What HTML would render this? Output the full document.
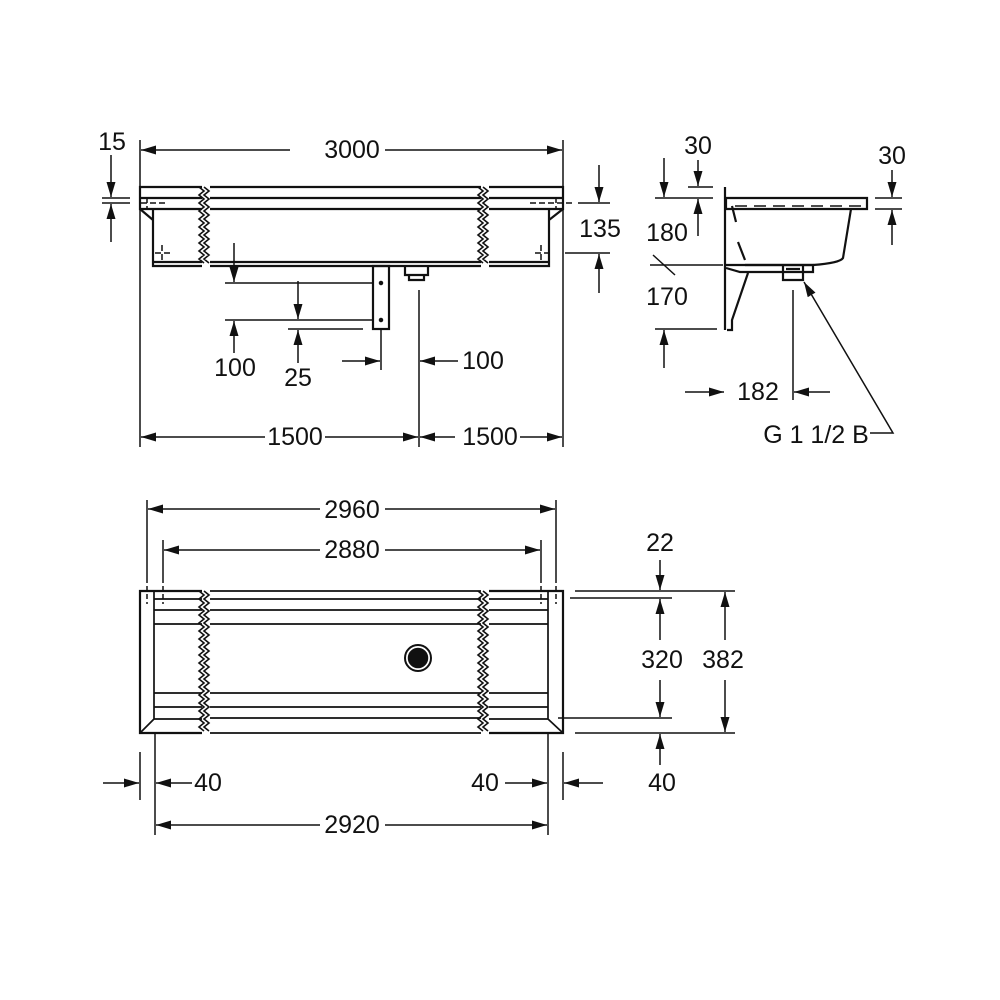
<!DOCTYPE html>
<html><head><meta charset="utf-8"><style>
html,body{margin:0;padding:0;background:#fff}
svg{display:block}
text{font-family:"Liberation Sans",Arial,sans-serif;font-size:25px;fill:#111;text-anchor:middle;dominant-baseline:central}
</style></head><body>
<svg id="s" width="1000" height="1000" viewBox="0 0 1000 1000" xmlns="http://www.w3.org/2000/svg">
<defs>
<marker id="a" viewBox="0 0 10 10" refX="10" refY="5" markerWidth="15" markerHeight="15" markerUnits="userSpaceOnUse" orient="auto"><path d="M0,2 L10,5 L0,8 Z" fill="#111"/></marker>
</defs>
<g stroke="#111" stroke-width="1.5" fill="none" id="g">
<line x1="140" y1="140" x2="140" y2="447"/><line x1="563" y1="140" x2="563" y2="447"/>
<line x1="290" y1="150" x2="141" y2="150" marker-end="url(#a)"/><line x1="385" y1="150" x2="562" y2="150" marker-end="url(#a)"/>
<path d="M202,187 H140 V209 H202 M140,198 H202" stroke-width="2.2"/>
<path d="M210,187 H481 M210,198 H481 M210,209 H481" stroke-width="2.2"/>
<path d="M489,187 H563 V209 H489 M489,198 H563" stroke-width="2.2"/>
<path d="M202,266 H153 V209 M140,209 L153,220 M153,262 H202" stroke-width="2.2"/>
<path d="M210,266 H481 M210,262 H481" stroke-width="2.2"/>
<path d="M489,266 H549 V209 M563,209 L549,220 M489,262 H549" stroke-width="2.2"/>
<path d="M147,197 V209 M141,203 H165 M155,253 H172 M162,245 V262 M530,203 H575 M556,197 V209 M535,253 H553 M541,245 V262" stroke-dasharray="6,3"/>
<rect x="373" y="266" width="16" height="63" stroke-width="2.2"/>
<circle cx="381" cy="283" r="1.5" fill="#111"/><circle cx="381" cy="320" r="1.5" fill="#111"/>
<path d="M405,266 V275 H409 V280 H424 V275 H428 V266 M409,275 H424" stroke-width="2.2"/>
<line x1="225" y1="283" x2="373" y2="283"/><line x1="225" y1="320" x2="373" y2="320"/>
<line x1="288" y1="329" x2="363" y2="329"/>
<line x1="234" y1="243" x2="234" y2="282" marker-end="url(#a)"/>
<line x1="234" y1="353" x2="234" y2="321" marker-end="url(#a)"/>
<line x1="298" y1="281" x2="298" y2="319" marker-end="url(#a)"/>
<line x1="298" y1="363" x2="298" y2="330" marker-end="url(#a)"/>
<line x1="381" y1="329" x2="381" y2="370"/>
<line x1="342" y1="361" x2="380" y2="361" marker-end="url(#a)"/>
<line x1="419" y1="290" x2="419" y2="447"/>
<line x1="458" y1="361" x2="420" y2="361" marker-end="url(#a)"/>
<line x1="265" y1="437" x2="141" y2="437" marker-end="url(#a)"/><line x1="325" y1="437" x2="418" y2="437" marker-end="url(#a)"/>
<line x1="455" y1="437" x2="420" y2="437" marker-end="url(#a)"/><line x1="520" y1="437" x2="562" y2="437" marker-end="url(#a)"/>
<line x1="102" y1="198" x2="130" y2="198"/><line x1="102" y1="203" x2="130" y2="203"/>
<line x1="111" y1="155" x2="111" y2="197" marker-end="url(#a)"/><line x1="111" y1="242" x2="111" y2="204" marker-end="url(#a)"/>
<line x1="578" y1="203" x2="610" y2="203"/><line x1="565" y1="253" x2="610" y2="253"/>
<line x1="599" y1="165" x2="599" y2="202" marker-end="url(#a)"/><line x1="599" y1="293" x2="599" y2="254" marker-end="url(#a)"/>

<line x1="725" y1="187" x2="725" y2="330" stroke-width="2.2"/>
<path d="M726,198 H867 V209 H726 Z" stroke-width="2.2"/>
<path d="M735,206 H862" stroke-dasharray="12,7"/>
<path d="M851,209 L843,258 Q840,263 813,265 L745,265" stroke-width="2.2"/>
<path d="M732,206 L736,222 M738,242 L745,260" stroke-width="2.2"/>
<path d="M726,265 H813 V272 H740 L726,268 M748,273 L732,320 V330 H727" stroke-width="2.2"/>
<path d="M783,265 V280 H803 V265 M786,269 H800" stroke-width="2.2"/>
<line x1="688" y1="187" x2="713" y2="187"/><line x1="655" y1="198" x2="713" y2="198"/>
<line x1="698" y1="160" x2="698" y2="186" marker-end="url(#a)"/><line x1="698" y1="236" x2="698" y2="199" marker-end="url(#a)"/>
<line x1="664" y1="158" x2="664" y2="197" marker-end="url(#a)"/>
<line x1="650" y1="265" x2="723" y2="265"/><line x1="653" y1="255" x2="675" y2="275"/>
<line x1="655" y1="329" x2="717" y2="329"/>
<line x1="664" y1="368" x2="664" y2="330" marker-end="url(#a)"/>
<line x1="793" y1="290" x2="793" y2="400"/>
<line x1="685" y1="392" x2="724" y2="392" marker-end="url(#a)"/><line x1="830" y1="392" x2="794" y2="392" marker-end="url(#a)"/>
<line x1="875" y1="198" x2="902" y2="198"/><line x1="875" y1="209" x2="902" y2="209"/>
<line x1="892" y1="170" x2="892" y2="197" marker-end="url(#a)"/><line x1="892" y1="245" x2="892" y2="210" marker-end="url(#a)"/>
<path d="M870,433 H893 L804,282" marker-end="url(#a)"/>

<path d="M202,591 H140 V733 H202" stroke-width="2.2"/>
<path d="M154,591 V719 L140,733 M154,599 H202 M154,610 H202 M154,624 H202 M154,693 H202 M154,707 H202 M154,719 H202" stroke-width="1.7"/>
<path d="M210,591 H481 M210,599 H481 M210,610 H481 M210,624 H481 M210,693 H481 M210,707 H481 M210,718 H481 M210,733 H481" stroke-width="1.7"/>
<path d="M489,591 H563 V733 H489" stroke-width="2.2"/>
<path d="M548,591 V719 L563,733 M489,599 H548 M489,610 H548 M489,624 H548 M489,693 H548 M489,707 H548 M489,719 H548" stroke-width="1.7"/>
<circle cx="418" cy="658" r="13" stroke-width="2"/><circle cx="418" cy="658" r="9.5" fill="#111"/>
<path d="M147,578 V604 M163,578 V604 M541,578 V604 M556,578 V604" stroke-dasharray="5,3"/>
<line x1="147" y1="500" x2="147" y2="578"/><line x1="556" y1="500" x2="556" y2="578"/>
<line x1="163" y1="540" x2="163" y2="578"/><line x1="541" y1="540" x2="541" y2="578"/>
<line x1="320" y1="509" x2="148" y2="509" marker-end="url(#a)"/><line x1="385" y1="509" x2="555" y2="509" marker-end="url(#a)"/>
<line x1="320" y1="550" x2="164" y2="550" marker-end="url(#a)"/><line x1="385" y1="550" x2="540" y2="550" marker-end="url(#a)"/>
<line x1="140" y1="752" x2="140" y2="800"/><line x1="155" y1="733" x2="155" y2="835"/>
<line x1="548" y1="733" x2="548" y2="835"/><line x1="563" y1="752" x2="563" y2="800"/>
<line x1="103" y1="783" x2="139" y2="783" marker-end="url(#a)"/><line x1="192" y1="783" x2="156" y2="783" marker-end="url(#a)"/>
<line x1="505" y1="783" x2="547" y2="783" marker-end="url(#a)"/><line x1="603" y1="783" x2="564" y2="783" marker-end="url(#a)"/>
<line x1="320" y1="825" x2="156" y2="825" marker-end="url(#a)"/><line x1="385" y1="825" x2="547" y2="825" marker-end="url(#a)"/>
<line x1="575" y1="591" x2="735" y2="591"/><line x1="570" y1="598" x2="672" y2="598"/>
<line x1="558" y1="718" x2="672" y2="718"/><line x1="575" y1="733" x2="735" y2="733"/>
<line x1="660" y1="560" x2="660" y2="590" marker-end="url(#a)"/>
<line x1="660" y1="640" x2="660" y2="599" marker-end="url(#a)"/><line x1="660" y1="680" x2="660" y2="717" marker-end="url(#a)"/>
<line x1="660" y1="765" x2="660" y2="734" marker-end="url(#a)"/>
<line x1="725" y1="640" x2="725" y2="592" marker-end="url(#a)"/><line x1="725" y1="680" x2="725" y2="732" marker-end="url(#a)"/>
</g>
<g>
<text x="352" y="150">3000</text>
<text x="112" y="142">15</text>
<text x="600" y="229">135</text>
<text x="235" y="368">100</text>
<text x="298" y="378">25</text>
<text x="483" y="361">100</text>
<text x="295" y="437">1500</text>
<text x="490" y="437">1500</text>
<text x="698" y="146">30</text>
<text x="892" y="156">30</text>
<text x="667" y="233">180</text>
<text x="667" y="297">170</text>
<text x="758" y="392">182</text>
<text x="816" y="435">G 1 1/2 B</text>
<text x="352" y="510">2960</text>
<text x="352" y="550">2880</text>
<text x="660" y="543">22</text>
<text x="662" y="660">320</text>
<text x="723" y="660">382</text>
<text x="208" y="783">40</text>
<text x="485" y="783">40</text>
<text x="662" y="783">40</text>
<text x="352" y="825">2920</text>
</g>
</svg>
<script>
(function(){
var g=document.getElementById('g');
function zz(x,y1,y2){var p=[],i=0;for(var y=y1;y<=y2;y+=4){p.push((x+(i%2?5:0))+','+y);i++;}
var e=document.createElementNS('http://www.w3.org/2000/svg','polyline');e.setAttribute('points',p.join(' '));e.setAttribute('stroke-width','1.6');g.appendChild(e);}
[201,206,480,485].forEach(function(x){zz(x-2,187,266);});
[201,206,480,485].forEach(function(x){zz(x-2,591,733);});
})();
</script>
</body></html>
